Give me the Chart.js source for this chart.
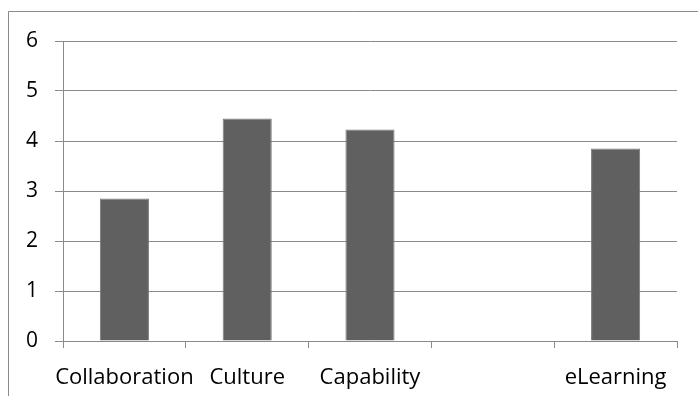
<!DOCTYPE html>
<html>
<head>
<meta charset="utf-8">
<script src="https://cdn.jsdelivr.net/npm/chart.js@4/dist/chart.umd.min.js"></script>
<style>
  html, body { margin: 0; padding: 0; background: #fff; }
  #wrap { width: 698px; height: 396px; position: relative; }
</style>
</head>
<body>
<div id="wrap"><canvas id="myChart" width="698" height="396"></canvas></div>
<script>
const categories = ['Collaboration', 'Culture', 'Capability', '', 'eLearning'];
const scores = [2.85, 4.45, 4.23, null, 3.85];
const yTicks = [0, 1, 2, 3, 4, 5, 6];

const lineGray = '#8a8a8a';

// outer frame of the chart object (left and top edges only are visible)
const framePlugin = {
    id: 'frame',
    beforeDraw: (chart) => {
        const ctx = chart.ctx;
        ctx.save();
        ctx.strokeStyle = lineGray;
        ctx.lineWidth = 1;
        ctx.beginPath();
        ctx.moveTo(8.5, 396);
        ctx.lineTo(8.5, 11.5);
        ctx.lineTo(698, 11.5);
        ctx.stroke();
        ctx.restore();
    }
};

const data = {
    labels: categories,
    datasets: [{
        label: 'Score',
        data: scores,
        backgroundColor: '#606060',
        borderColor: '#7a7a7a',
        borderWidth: 1,
        barPercentage: 0.4,
        categoryPercentage: 1.0
    }]
};

const config = {
    type: 'bar',
    data: data,
    options: {
        responsive: false,
        animation: false,
        layout: { padding: { left: 0, top: 41, right: 21, bottom: 0 } },
        plugins: {
            legend: { display: false },
            tooltip: { enabled: false }
        },
        scales: {
            x: {
                offset: true,
                grid: {
                    offset: true,
                    drawOnChartArea: false,
                    drawTicks: true,
                    tickLength: 7,
                    color: lineGray
                },
                border: { color: lineGray, width: 1 },
                ticks: {
                    color: '#000',
                    padding: 17,
                    maxRotation: 0,
                    autoSkip: false,
                    font: { family: 'Open Sans', size: 22 }
                },
                afterFit: (scale) => { scale.height = 55; }
            },
            y: {
                min: 0,
                max: 6,
                afterBuildTicks: (scale) => {
                    scale.ticks = yTicks.map((v) => ({ value: v }));
                },
                grid: {
                    color: lineGray,
                    tickLength: 8
                },
                border: { color: lineGray, width: 1 },
                ticks: {
                    color: '#000',
                    padding: 17,
                    font: { family: 'Open Sans', size: 21 }
                },
                afterFit: (scale) => { scale.width = 63; }
            }
        }
    },
    plugins: [framePlugin]
};

var myChart = new Chart(document.getElementById('myChart'), config);
</script>
</body>
</html>
